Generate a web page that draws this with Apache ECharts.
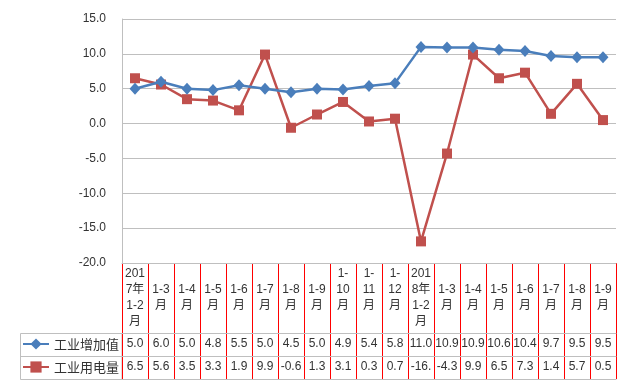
<!DOCTYPE html>
<html><head><meta charset="utf-8">
<script src="https://cdn.jsdelivr.net/npm/echarts@6/dist/echarts.min.js"></script>
<style>html,body{margin:0;padding:0;background:#fff}#c{width:633px;height:389px}</style>
</head><body><div id="c"></div>
<script>
const categories = ['2017年1-2月','1-3月','1-4月','1-5月','1-6月','1-7月','1-8月','1-9月','1-10月','1-11月','1-12月','2018年1-2月','1-3月','1-4月','1-5月','1-6月','1-7月','1-8月','1-9月'];
const headerLabels = ['201\n7年\n1-2\n月','1-3\n月','1-4\n月','1-5\n月','1-6\n月','1-7\n月','1-8\n月','1-9\n月','1-\n10\n月','1-\n11\n月','1-\n12\n月','201\n8年\n1-2\n月','1-3\n月','1-4\n月','1-5\n月','1-6\n月','1-7\n月','1-8\n月','1-9\n月'];
const addedValue = [5.0,6.0,5.0,4.8,5.5,5.0,4.5,5.0,4.9,5.4,5.8,11.0,10.9,10.9,10.6,10.4,9.7,9.5,9.5];
const powerUse = [6.5,5.6,3.5,3.3,1.9,9.9,-0.6,1.3,3.1,0.3,0.7,-16.9,-4.3,9.9,6.5,7.3,1.4,5.7,0.5];
const yTicks = {min:-20, max:15, interval:5};
const seriesNames = ['工业增加值','工业用电量'];

const gray = '#bfbfbf';
const txt = '#333';
const font = 'Liberation Sans, Arial, sans-serif';
const chart = echarts.init(document.getElementById('c'));
const headerFmt = (v, i) => { const s = headerLabels[i]; return s.split('\n').length === 2 ? '\n' + s : s; };
const rowAxis = (vals, offset, show) => ({
  type:'category', gridIndex:0, position:'bottom', offset, data: vals.map(v=>v.toFixed(1)),
  boundaryGap:true,
  axisLine:{show:true, onZero:false, lineStyle:{color:gray, width:1}},
  axisTick:{show:false}, splitLine:{show:false}, splitArea:{show:false},
  axisLabel:{show, interval:0, margin:4, fontSize:12, fontFamily:font, color:txt, lineHeight:14,
    width:25, overflow:'truncate', ellipsis:''}
});
chart.setOption({
  animation:false,
  grid:[
    {left:122, right:17, top:19, bottom:126, containLabel:false},
    {left:122, right:17, top:263, height:116, containLabel:false}
  ],
  legend:{
    orient:'vertical', left:22, top:337, itemWidth:26, itemHeight:14, itemGap:9, padding:0,
    textStyle:{fontSize:13, lineHeight:14, color:txt, fontFamily:'Noto Sans CJK SC, sans-serif'},
    data: seriesNames
  },
  xAxis:[
    {type:'category', data:categories, boundaryGap:true,
     axisLine:{show:true, onZero:false, lineStyle:{color:gray, width:1}},
     axisTick:{show:false},
     splitLine:{show:false},
     axisLabel:{interval:0, margin:3, fontSize:12, lineHeight:16, fontFamily:font + ', Noto Sans CJK SC', color:txt, formatter:headerFmt}},
    rowAxis(addedValue, 70, true),
    rowAxis(powerUse, 93, true),
    rowAxis(addedValue, 116, false),
    {type:'category', gridIndex:1, data:categories, boundaryGap:true,
     axisLine:{show:false}, axisTick:{show:false}, axisLabel:{show:false},
     splitLine:{show:true, interval:0, lineStyle:{color:'#ff0000', width:1}}}
  ],
  yAxis:[
    {type:'value', min:yTicks.min, max:yTicks.max, interval:yTicks.interval,
     axisLine:{show:true, lineStyle:{color:gray}}, axisTick:{show:false},
     splitLine:{show:true, lineStyle:{color:gray, width:1}},
     axisLabel:{margin:16, fontSize:12, fontFamily:font, color:txt, formatter:v=>v.toFixed(1)}},
    {type:'value', gridIndex:1, show:false, splitLine:{show:false}}
  ],
  series:[
    {name:seriesNames[0], type:'line', data:addedValue, xAxisIndex:0,
     symbol:'diamond', symbolSize:[11,12], lineStyle:{color:'#4a7ebb', width:2.5},
     itemStyle:{color:'#4a7ebb'}},
    {name:seriesNames[1], type:'line', data:powerUse, xAxisIndex:0,
     symbol:'rect', symbolSize:10, lineStyle:{color:'#c0504d', width:2.5},
     itemStyle:{color:'#c0504d'}, z:1}
  ],
  graphic:[
    {type:'rect', silent:true, shape:{x:20.5, y:333.5, width:101.5, height:46}, style:{fill:'none', stroke:gray, lineWidth:1}},
    {type:'line', silent:true, shape:{x1:20.5, y1:356.5, x2:122, y2:356.5}, style:{stroke:gray, lineWidth:1}},
    {type:'line', silent:true, shape:{x1:616.5, y1:263, x2:616.5, y2:379}, style:{stroke:gray, lineWidth:1}}
  ]
});
</script></body></html>
